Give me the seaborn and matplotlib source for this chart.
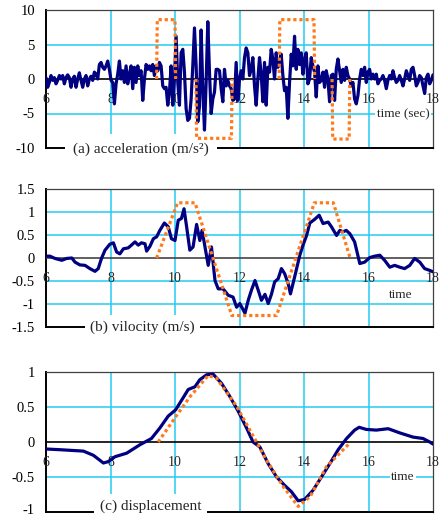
import numpy as np
import pandas as pd
import matplotlib
matplotlib.use("Agg")
import matplotlib.pyplot as plt
import matplotlib.transforms as mtransforms
import seaborn as sns

sns.set_style("white")
plt.rcParams["font.family"] = ["Liberation Serif", "DejaVu Serif"]
plt.rcParams["axes.unicode_minus"] = False

NAVY = "#000080"
ORANGE = "#FF7A1A"
GRID = "#22CCF2"

# ---------------- measured records ----------------
# (a) acceleration (m/s^2), uniformly sampled from 6 s to 18 s
acc_values = [
    0.2, -1.2, -0.5, 0.5, -0.2, 0.2, -0.7, -0.2, 0.5, 0, 0.5, -0.7, 0.2, 0.6, 0.2, -1.2,
    0, 0.4, -1.2, 0, 0.9, -0.2, -1.2, 0, 0.5, -1.0, 0, 0.4, -0.2, 1.0, 0.7, 0,
    2.1, 2.4, 1.7, 1.4, 1.9, 2.6, 1.4, -0.2, -0.5, -3.6, -0.7, 0.7, 2.6, 0, 1.2, -0.5,
    1.9, -0.7, 0.7, 1.9, -1.4, 1.7, -0.5, 1.9, 0.5, 1.2, -3.1, 0, 2.1, 1.4, 1.9, 1.2,
    2.1, 0.5, 1.9, 1.2, 2.4, 1.9, -1.0, -1.4, -1.2, -3.8, -1.9, 1.9, -3.8, 0, 6.2, -0.5,
    -3.8, 3.8, 4.3, 1.0, -4.3, -6.0, -5.7, -2.9, 1.9, 7.4, 1.9, -6.2, -4.0, 7.1, -1.4, -7.4,
    -0.5, 8.3, 1.0, -5.0, -2.9, -1.9, 1.4, 1.4, 1.2, -1.4, -3.3, 1.4, -1.0, -0.2, -1.0, -1.4,
    -3.1, -2.9, 2.4, -3.1, 0, 1.2, 0, 3.1, 4.5, 3.8, 0.5, 1.4, 3.1, -1.0, -3.8, 0,
    3.1, 0.7, -3.3, 2.4, -3.8, 1.7, 1.0, 4.3, 2.9, 0, 3.8, 1.7, 2.1, 3.6, 0.5, -1.7,
    -1.2, -5.7, -0.5, 3.6, 1.9, 6.2, 1.4, 4.3, 2.1, 3.8, 0.7, 2.9, 3.8, -0.7, 0, 3.1,
    1.9, 1.0, -2.6, 1.9, -0.5, -0.2, 1.0, -1.2, 1.2, 0, -3.3, 0.5, 0.7, -3.1, 1.4, 2.9,
    1.2, -0.5, 1.4, -0.2, 1.7, 0.5, 0, -1.0, -0.5, -2.9, -3.6, -2.4, 0, 1.4, 0.5, 1.7,
    -0.5, 1.0, 1.4, 0, 0.7, 0, 0.7, -0.7, -0.2, 0, 0.5, -0.2, -1.4, -0.2, 0.5, 0,
    1.2, 0.2, -0.5, -0.2, 0.5, -0.2, -1.0, 0, 1.2, 0.5, -0.2, 1.4, 1.7, 0.5, -1.0, -0.5,
    0.5, 0.2, -1.0, -2.1, 0.2, 0.7, -0.7, -0.2, 0.6,
]
acc_time = np.linspace(6, 18, len(acc_values))

# (b) velocity (m/s)
vel_time = [
    6.00, 6.12, 6.28, 6.49, 6.64, 6.80, 6.90, 7.05, 7.21, 7.36, 7.52, 7.62, 7.72, 7.83,
    7.98, 8.09, 8.19, 8.29, 8.40, 8.55, 8.65, 8.76, 8.86, 8.96, 9.07, 9.12, 9.22, 9.33,
    9.43, 9.53, 9.67, 9.79, 9.89, 10.00, 10.10, 10.20, 10.28, 10.36, 10.46, 10.56, 10.67,
    10.77, 10.84, 10.93, 11.03, 11.13, 11.24, 11.34, 11.49, 11.65, 11.80, 11.91, 12.01,
    12.17, 12.27, 12.37, 12.48, 12.58, 12.68, 12.79, 12.89, 12.99, 13.09, 13.20, 13.30,
    13.40, 13.51, 13.58, 13.71, 13.87, 13.97, 14.08, 14.18, 14.33, 14.47, 14.59, 14.75,
    14.85, 15.01, 15.11, 15.21, 15.31, 15.42, 15.57, 15.73, 15.88, 16.04, 16.19, 16.35,
    16.50, 16.66, 16.81, 16.97, 17.12, 17.28, 17.43, 17.59, 17.74, 17.90, 18.00,
]
vel_values = [
    0.04, 0.04, -0.01, -0.05, -0.01, 0.00, -0.09, -0.15, -0.16, -0.23, -0.29, -0.23, -0.01,
    0.17, 0.30, 0.33, 0.13, 0.09, 0.20, 0.22, 0.28, 0.35, 0.28, 0.33, 0.31, 0.15, 0.25,
    0.42, 0.46, 0.60, 0.76, 0.68, 0.42, 0.38, 0.82, 0.86, 1.07, 0.68, 0.17, 0.24, 0.73,
    0.38, 0.60, 0.24, -0.16, 0.24, -0.49, -0.67, -0.67, -0.81, -0.85, -1.07, -0.99,
    -1.20, -0.92, -0.70, -0.49, -0.70, -0.92, -0.79, -0.99, -0.79, -0.52, -0.45, -0.23,
    -0.34, -0.56, -0.78, -0.41, 0.06, 0.28, 0.49, 0.76, 0.84, 0.93, 0.75, 0.78, 0.68,
    0.49, 0.60, 0.57, 0.60, 0.53, 0.35, -0.12, -0.09, 0.01, 0.04, 0.06, -0.05, -0.20,
    -0.16, -0.20, -0.23, -0.16, -0.01, -0.09, -0.23, -0.27, -0.30,
]

# (c) displacement
disp_time = [
    6.00, 6.43, 7.16, 7.47, 7.78, 7.93, 8.14, 8.50, 8.91, 9.27, 9.53, 9.79, 10.02, 10.25,
    10.41, 10.62, 10.77, 10.98, 11.18, 11.44, 11.70, 11.96, 12.22, 12.42, 12.63, 12.89,
    13.15, 13.40, 13.61, 13.82, 14.02, 14.28, 14.54, 14.80, 15.06, 15.32, 15.57, 15.71,
    15.93, 16.24, 16.61, 16.97, 17.38, 17.69, 17.90, 18.00,
]
disp_values = [
    -0.10, -0.11, -0.13, -0.19, -0.30, -0.28, -0.21, -0.16, -0.04, 0.05, 0.20, 0.37, 0.46,
    0.63, 0.75, 0.79, 0.89, 0.96, 0.97, 0.84, 0.65, 0.44, 0.20, 0.00, -0.07, -0.31, -0.50,
    -0.62, -0.71, -0.84, -0.82, -0.69, -0.50, -0.31, -0.11, 0.05, 0.17, 0.21, 0.18, 0.17,
    0.19, 0.13, 0.07, 0.05, 0.00, -0.03,
]

# ---------------- idealised input motion ----------------
pulse_id = [0, 0, 0, 0, 1, 1, 1, 1, 2, 2, 2, 2, 3, 3, 3, 3]
pulse_time = [9.43, 9.45, 10.00, 10.02, 10.65, 10.67, 11.75, 11.77,
              13.23, 13.25, 14.31, 14.33, 14.87, 14.89, 15.40, 15.42]
pulse_acc = [0, 8.6, 8.6, 0, 0, -8.6, -8.6, 0, 0, 8.6, 8.6, 0, 0, -8.7, -8.7, 0]

ideal_vel_time = [9.43, 10.08, 10.62, 11.76, 13.15, 14.32, 14.91, 15.43]
ideal_vel = [0, 1.2, 1.2, -1.25, -1.25, 1.2, 1.2, 0]

ideal_disp_time = [9.48, 10.02, 10.47, 11.03, 11.29, 11.91, 12.43, 12.84, 13.36, 13.82,
                   14.19, 14.70, 15.43]
ideal_disp = [0.0, 0.36, 0.65, 0.95, 0.91, 0.51, 0.08, -0.26, -0.64, -0.92, -0.78,
              -0.35, -0.01]

time_ticks = [6, 8, 10, 12, 14, 16, 18]

# ---------------- figure ----------------
fig = plt.figure(figsize=(4.4, 5.17), dpi=100)
W, H = 440.0, 517.0


def make_axes(top_px, bottom_px):
    return fig.add_axes([46 / W, 1 - bottom_px / H, 387 / W, (bottom_px - top_px) / H])


def style(ax, ylim, yticks, ylabels, grid_y, title, title_x, title_dy, title_pad,
          time_label, time_xy, zero_color="black"):
    ax.set_xlim(6, 18)
    ax.set_ylim(*ylim)
    for v in time_ticks[1:-1]:
        ax.axvline(v, color=GRID, lw=1.1, zorder=0.5)
    for v in grid_y:
        ax.axhline(v, color=GRID, lw=1.1, zorder=0.5)
    ax.axhline(0, color=zero_color, lw=1.2, zorder=1.2)
    ax.set_xticks([])
    ax.set_yticks(yticks)
    ax.set_yticklabels(ylabels)
    ax.tick_params(axis="y", length=0, pad=8, labelsize=10.5, colors="black")
    for side in ("left", "bottom"):
        ax.spines[side].set_color("black")
        ax.spines[side].set_linewidth(1.4)
    for side in ("top", "right"):
        ax.spines[side].set_color("#404040")
        ax.spines[side].set_linewidth(0.9)
    for sp in ax.spines.values():
        sp.set_zorder(1)
        sp.set_visible(True)
    for t in time_ticks:
        ax.annotate(str(t), xy=(t, 0), xytext=(0, -14.5), textcoords="offset points",
                    ha="center", va="center", fontsize=10, annotation_clip=False,
                    zorder=2)
    ax.text(time_xy[0], time_xy[1], time_label, ha="center", va="center", fontsize=9.5,
            zorder=1.6, bbox=dict(boxstyle="square,pad=0.1", fc="white", ec="none"))
    ax.text(title_x, title_dy, title, transform=ax.transAxes, ha="center", va="center",
            fontsize=11, zorder=1.5, clip_on=False,
            bbox=dict(boxstyle=f"square,pad={title_pad}", fc="white", ec="none"))


# (a) acceleration
ax1 = make_axes(10, 148)
sns.lineplot(x=acc_time, y=acc_values, ax=ax1, color=NAVY, lw=2.3, sort=False,
             estimator=None, zorder=3)
pulses = pd.DataFrame({"t": pulse_time, "a": pulse_acc, "p": pulse_id})
sns.lineplot(data=pulses, x="t", y="a", units="p", estimator=None, sort=False, ax=ax1,
             color=ORANGE, lw=2.3, linestyle=(0, (1, 0.9)), zorder=4)
style(ax1, (-10, 10), [-10, -5, 0, 5, 10], ["-10", "-5", "0", "5", "10"], [-5, 5],
      "(a) acceleration (m/s²)", 0.245, -0.01, 0.55, "time (sec)", (17.07, -5.1))

# (b) velocity
ax2 = make_axes(189, 327)
sns.lineplot(x=vel_time, y=vel_values, ax=ax2, color=NAVY, lw=2.3, sort=False,
             estimator=None, zorder=3)
sns.lineplot(x=ideal_vel_time, y=ideal_vel, ax=ax2, color=ORANGE, lw=2.3, sort=False,
             estimator=None, linestyle=(0, (1, 0.9)), zorder=4)
style(ax2, (-1.5, 1.5), [-1.5, -1, -0.5, 0, 0.5, 1, 1.5],
      ["-1.5", "-1", "-0.5", "0", "0.5", "1", "1.5"], [-1, -0.5, 0.5, 1],
      "(b) vilocity (m/s)", 0.25, 0.0, 0.35, "time", (17.0, -0.8), zero_color="#444444")

# (c) displacement
ax3 = make_axes(372, 512)
sns.lineplot(x=disp_time, y=disp_values, ax=ax3, color=NAVY, lw=2.3, sort=False,
             estimator=None, zorder=3)
sns.lineplot(x=ideal_disp_time, y=ideal_disp, ax=ax3, color=ORANGE, lw=2.3, sort=False,
             estimator=None, linestyle=(0, (1, 0.9)), zorder=4)
style(ax3, (-1, 1), [-1, -0.5, 0, 0.5, 1], ["-1", "-0.5", "0", "0.5", "1"], [-0.5, 0.5],
      "(c) displacement", 0.27, 0.04, 0.35, "time", (17.07, -0.5))

# keep the lowest tick label of the bottom panel inside the figure
lowest = ax3.get_yticklabels()[0]
lowest.set_transform(lowest.get_transform()
                     + mtransforms.ScaledTranslation(0, 3 / 100, fig.dpi_scale_trans))

for ax in (ax1, ax2, ax3):
    ax.set_xlabel("")
    ax.set_ylabel("")
    leg = ax.get_legend()
    if leg is not None:
        leg.remove()

fig.savefig("out.png", dpi=100)
